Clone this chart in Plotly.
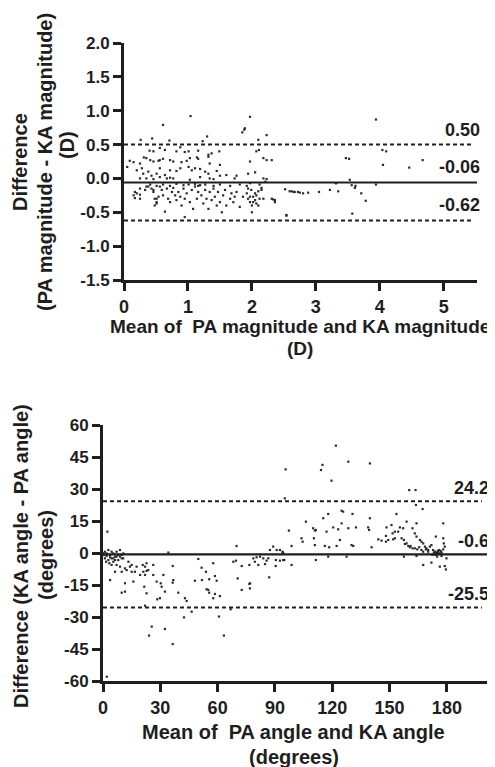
import plotly.graph_objects as go

# ---------------- data: magnitude (top panel) ----------------
mag_mean = [
    1.04, 0.61, 1.97, 1.88, 1.89, 1.85, 1.30, 2.23, 0.26, 0.44, 0.71, 2.10, 1.23,
    0.40, 0.46, 0.56, 0.64, 0.82, 0.88, 0.95, 1.01, 1.16, 1.32, 1.37, 1.49, 2.07, 2.11,
    0.09, 0.15, 0.25, 0.31, 0.35, 0.41, 0.46, 0.54, 0.56, 0.61, 0.72, 0.77, 0.90, 0.98,
    1.03, 1.14, 1.16, 1.32, 1.34, 1.50, 1.97, 2.18, 2.23, 2.31,
    0.05, 0.20, 0.28, 0.30, 0.38, 0.43, 0.51, 0.56, 0.64, 0.72, 0.82, 0.88, 1.01, 1.06,
    1.11, 1.19, 1.27, 1.32, 1.45, 1.50, 1.60, 1.76, 1.73, 1.94, 2.05, 2.18, 2.23,
    0.25, 0.35, 0.46, 0.56, 0.67, 0.72, 0.77, 1.03, 1.19, 1.34, 1.40,
    3.94, 4.04, 4.10, 3.47, 3.52, 4.05, 4.46, 4.67, 3.31, 3.53, 3.56, 3.62, 3.94,
    2.62, 2.72, 2.80, 2.88, 3.05, 3.22, 3.35, 3.71, 3.78, 3.57,
    1.94, 1.99, 2.05, 2.10, 2.15, 1.97, 2.02, 2.07, 2.12, 2.33, 2.36, 2.67, 2.75,
    3.61, 2.00, 2.54, 3.32, 1.97, 2.21,
    0.15, 0.17, 0.25, 0.33, 0.38, 0.43, 0.46, 0.48, 0.48, 0.51, 0.54, 0.56, 0.59, 0.61,
    0.67, 0.69, 0.72, 0.75, 0.77, 0.80, 0.82, 0.85, 0.88, 0.90, 0.93, 0.95, 0.98, 1.03,
    1.06, 1.08, 1.11, 1.14, 1.16, 1.19, 1.21, 1.24, 1.27, 1.29, 1.32, 1.34, 1.37, 1.40,
    1.42, 1.45, 1.47, 1.50, 1.53, 1.55, 1.58, 1.60, 1.66, 1.68, 1.71, 1.73, 1.76, 1.81,
    1.86, 1.92, 1.94, 1.97, 2.00, 2.02, 2.05, 2.07, 2.10, 2.15, 2.18, 2.31, 2.36, 2.52,
    2.59, 2.65, 0.64, 0.95, 2.54, 0.25, 0.20,
    0.41, 0.51, 0.61, 0.72, 0.82, 0.93, 1.01, 1.11, 1.16, 1.27, 1.40, 1.50, 1.66, 1.81,
    1.92, 2.12,
    0.17, 0.25, 0.35, 0.46, 0.51, 0.51,
]
mag_diff = [
    0.92, 0.79, 0.91, 0.72, 0.74, 0.68, 0.62, 0.64, 0.57, 0.59, 0.56, 0.57, 0.55,
    0.41, 0.40, 0.45, 0.42, 0.40, 0.46, 0.39, 0.40, 0.41, 0.35, 0.37, 0.40, 0.40, 0.42,
    0.26, 0.24, 0.22, 0.31, 0.30, 0.27, 0.25, 0.26, 0.27, 0.29, 0.27, 0.25, 0.24, 0.26,
    0.30, 0.31, 0.29, 0.32, 0.22, 0.20, 0.25, 0.30, 0.27, 0.27,
    0.17, 0.12, 0.15, 0.07, 0.10, 0.04, 0.07, 0.15, 0.05, 0.12, 0.11, 0.15, 0.17, 0.12,
    0.15, 0.14, 0.10, 0.07, 0.11, 0.04, 0.05, 0.04, 0.00, 0.07, 0.09, 0.00, -0.01,
    0.00, 0.00, -0.01, 0.02, 0.00, 0.01, 0.00, -0.02, 0.02, 0.00, -0.01,
    0.87, 0.42, 0.40, 0.30, 0.29, 0.20, 0.16, 0.27, -0.07, -0.02, -0.10, -0.11, -0.09,
    -0.19, -0.20, -0.22, -0.21, -0.20, -0.17, -0.19, -0.22, -0.33, -0.52,
    -0.15, -0.17, -0.22, -0.19, -0.14, -0.27, -0.35, -0.37, -0.30, -0.31, -0.35, -0.20, -0.21,
    -0.14, -0.50, -0.54, -0.07, -0.07, -0.05,
    -0.25, -0.29, -0.24, -0.17, -0.12, -0.15, -0.20, -0.30, -0.40, -0.35, -0.27, -0.12, -0.17, -0.25,
    -0.15, -0.30, -0.35, -0.20, -0.14, -0.25, -0.32, -0.20, -0.27, -0.40, -0.15, -0.30, -0.22, -0.35,
    -0.17, -0.45, -0.12, -0.30, -0.20, -0.10, -0.25, -0.37, -0.17, -0.30, -0.45, -0.20, -0.32, -0.15,
    -0.27, -0.40, -0.20, -0.35, -0.50, -0.25, -0.17, -0.40, -0.30, -0.22, -0.35, -0.27, -0.20, -0.42,
    -0.27, -0.22, -0.30, -0.35, -0.40, -0.27, -0.32, -0.25, -0.40, -0.17, -0.30, -0.30, -0.32, -0.16,
    -0.19, -0.20, -0.49, -0.57, -0.55, -0.30, -0.22,
    -0.09, -0.11, -0.09, -0.11, -0.08, -0.10, -0.09, -0.08, -0.11, -0.09, -0.11, -0.09, -0.11, -0.09,
    -0.11, -0.09,
    -0.20, -0.15, -0.12, -0.17, -0.30, -0.37,
]
mag_limits = [0.50, -0.06, -0.62]
mag_yticks = [2.0, 1.5, 1.0, 0.5, 0.0, -0.5, -1.0, -1.5]
mag_xticks = [0, 1, 2, 3, 4, 5]

# ---------------- data: angle (bottom panel) ----------------
ang_mean = [
    95.6, 95.2, 97.3, 2.3, 69.9, 34.2, 49.9, 51.6, 57.7, 36.5, 26.3, 53.9, 58.6, 48.1,
    51.8, 55.6, 59.5, 54.2, 55.1, 55.6, 58.6, 61.2, 57.7, 42.9, 43.8, 39.4, 36.8, 36.5,
    31.6, 26.3, 22.0, 22.8, 21.6, 22.8, 28.1, 30.7, 29.8, 28.4, 32.4, 30.2, 22.0, 46.4,
    42.4, 60.7, 66.8, 25.5, 24.1, 32.4, 36.5, 63.3, 11.5, 9.8, 11.5, 15.9, 3.7, 6.3,
    9.8, 12.4, 14.1, 15.0, 16.7, 17.6, 19.4, 21.1, 22.0, 23.7, 22.8, 20.8, 13.3, 15.0,
    8.9, 11.5, 7.1, 4.5, 5.4,
    1.0, 1.9, 2.8, 3.7, 4.5, 5.4, 6.3, 7.1, 8.0, 8.9, 9.8, 10.6, 1.0, 2.8, 4.5, 6.3,
    8.0, 9.8, 1.9, 3.7, 5.4, 7.1, 8.9, 10.6, 0.5, 1.6, 3.3, 0.2,
    78.7, 80.4, 82.2, 83.9, 85.6, 86.5, 89.1, 87.4, 90.9, 92.6, 94.0, 94.4, 79.5, 81.3,
    76.6, 72.6, 68.2, 69.6, 70.5, 72.6, 76.6, 76.9, 87.0, 84.8, 90.4, 90.5, 92.6, 94.9,
    98.7, 77.0, 2.0,
    121.9, 128.4, 139.7, 114.9, 114.1, 119.6, 160.3, 163.6, 163.8, 167.3, 124.9, 125.7,
    130.6, 117.9, 115.3, 153.6, 106.2, 124.9, 139.7, 151.0, 158.9, 164.1, 178.1, 110.0,
    111.4, 110.9, 117.0, 120.5, 123.1, 128.4, 132.4, 138.8, 139.3, 148.4, 151.6, 152.8,
    154.5, 155.4, 157.1, 162.0, 103.9, 104.5, 98.7, 110.4, 110.9, 116.1, 118.4, 122.3,
    124.0, 130.1, 131.0, 140.6, 144.1, 145.8, 148.1, 149.3, 151.9, 152.8, 148.1, 156.3,
    157.5, 158.9, 159.8, 160.6, 163.2, 164.1, 165.9, 166.7, 167.6, 168.5, 169.3, 170.2,
    171.1, 171.9,
    172.8, 173.2, 173.7, 174.6, 175.5, 176.0, 176.3, 177.2, 178.1, 178.9, 174.2, 174.9,
    172.5, 177.2, 174.2, 178.1, 178.4, 167.6, 171.9, 176.3, 178.9, 179.5, 179.8, 164.1,
    157.5, 117.9, 127.5, 111.4, 94.3, 94.0,
    175.0, 175.8, 176.8, 173.5, 175.2, 174.0,
    158.0, 161.0, 162.0, 163.2, 164.5, 165.5, 166.7, 167.6, 169.0, 170.2,
]
ang_diff = [
    39.2, 25.6, 10.5, 10.0, 3.3, 0.2, -2.8, -6.9, -4.8, -6.1, -5.6, -8.8, -10.8, -13.0,
    -12.7, -12.3, -13.0, -17.0, -17.3, -18.6, -19.2, -20.2, -21.2, -21.2, -22.5, -18.6, -12.7, -13.9,
    -10.3, -10.3, -10.3, -8.4, -15.8, -18.9, -13.4, -15.8, -21.2, -21.7, -18.1, -14.2, -24.7, -27.5,
    -30.2, -29.8, -26.4, -34.5, -38.7, -35.6, -42.7, -38.7, -14.2, -18.6, -18.1, -13.4, -12.7, -8.8,
    -8.8, -8.0, -6.4, -8.8, -8.8, -6.4, -10.3, -8.8, -6.4, -8.0, -4.8, -5.6, -4.1, -5.6,
    -6.4, -7.2, -5.6, -5.6, -4.1,
    0.6, -0.2, 1.4, -0.9, 0.6, -0.2, -1.7, 0.6, -0.9, 1.4, -0.9, -0.2, -2.5, -3.3, -2.5, -3.3,
    -3.3, -2.5, -1.4, -2.0, -2.5, -1.7, -1.7, -2.5, -0.9, -4.1, -4.8, -0.2,
    -2.5, -2.0, -1.7, -2.5, -3.6, -2.5, 3.0, 1.4, 1.4, 1.4, 0.6, -0.2, -4.1, -5.6,
    -5.6, -6.1, -4.1, -3.6, -11.9, -17.3, -14.5, -16.6, -11.4, -5.2, -6.1, -3.3, -3.6, -3.3,
    -5.6, -14.2, -58.0,
    50.3, 42.8, 42.0, 41.3, 38.9, 33.9, 29.5, 29.5, 22.5, 20.6, 19.8, 19.4,
    18.3, 18.3, 16.3, 18.3, 14.7, 13.9, 16.3, 13.1, 14.7, 13.9, 13.9, 11.6,
    10.8, 10.5, 10.0, 12.0, 11.1, 11.6, 12.0, 12.0, 10.8, 12.0, 9.2, 10.0,
    10.0, 12.0, 11.6, 11.6, 6.9, 5.3, 3.3, 6.9, 3.7, 3.3, 2.7, 3.3,
    6.1, 3.7, 3.3, 2.7, 6.4, 5.8, 8.0, 6.1, 6.4, 6.9, 5.3, 6.9,
    6.1, 4.5, 3.3, 2.7, 9.2, 7.7, 6.1, 5.3, 4.5, 3.0, 2.2, 1.4,
    3.0, 3.7,
    1.4, 0.2, 0.6, -0.2, 0.6, 1.4, -0.2, 0.2, 1.7, 3.0, -0.9, -1.7,
    -0.9, -1.4, 7.7, 6.9, 4.5, -5.6, -4.5, -6.4, -6.1, -7.7, -2.5, -1.4,
    -1.7, -1.7, -1.7, -3.3, -3.3, 0.2,
    0.0, -0.5, 0.9, -0.4, 1.0, 0.3,
    4.2, 3.3, 2.2, 2.2, 1.7, 2.7, 1.4, 0.6, 1.7, 0.6,
]
ang_limits = [24.2, -0.6, -25.5]
ang_yticks = [60, 45, 30, 15, 0, -15, -30, -45, -60]
ang_xticks = [0, 30, 60, 90, 120, 150, 180]

FONT = "Liberation Sans"
INK = "#1e1e1e"
W, H = 495, 767
OFF = 8  # page margin around the figure


def PX(x):  # screen pixel -> paper x
    return (x - OFF) / W


def PY(y):  # screen pixel -> paper y
    return 1 - (y - OFF) / H


fig = go.Figure()

dot = dict(size=2.2, color="#2a2a2a", symbol="square", line=dict(width=0))
fig.add_trace(go.Scatter(x=mag_mean, y=mag_diff, mode="markers", xaxis="x", yaxis="y",
                         marker=dot, showlegend=False, hoverinfo="skip"))
fig.add_trace(go.Scatter(x=ang_mean, y=ang_diff, mode="markers", xaxis="x2", yaxis="y2",
                         marker=dot, showlegend=False, hoverinfo="skip"))


def add_lines(limits, xend_dash, xend_solid, xa, ya):
    for i, v in enumerate(limits):
        solid = (i == 1)
        fig.add_trace(go.Scatter(
            x=[0, xend_solid if solid else xend_dash], y=[v, v], mode="lines",
            xaxis=xa, yaxis=ya, showlegend=False, hoverinfo="skip",
            line=dict(color=INK, width=2.2 if solid else 2,
                      dash="solid" if solid else "4px,3px")))


add_lines(mag_limits, 5.45, 5.52, "x", "y")
add_lines(ang_limits, 198.3, 201, "x2", "y2")

axis_common = dict(showline=True, linecolor=INK, linewidth=3, ticks="outside",
                   ticklen=8, tickwidth=3, tickcolor=INK, showgrid=False,
                   zeroline=False, mirror=False, automargin=False)


def b(s):
    return f"<b>{s}</b>"


fig.update_layout(
    width=W, height=H, margin=dict(l=0, r=0, t=0, b=0, pad=0, autoexpand=False),
    paper_bgcolor="white", plot_bgcolor="white",
    xaxis=dict(domain=[PX(124), PX(477)], range=[0, 5.52], anchor="y",
               tickvals=mag_xticks, ticktext=[b(t) for t in mag_xticks],
               tickfont=dict(family=FONT, size=18, color=INK),
               **axis_common),
    yaxis=dict(domain=[PY(280), PY(43)], range=[-1.5, 2.0], anchor="x",
               tickvals=mag_yticks, ticktext=[b(f"{t:.1f}") for t in mag_yticks],
               tickfont=dict(family=FONT, size=17, color=INK),
               **axis_common),
    xaxis2=dict(domain=[PX(103), PX(487)], range=[0, 201], anchor="y2",
                tickvals=ang_xticks, ticktext=[b(t) for t in ang_xticks],
                tickfont=dict(family=FONT, size=18, color=INK),
                **axis_common),
    yaxis2=dict(domain=[PY(681), PY(425)], range=[-60, 60], anchor="x2",
                tickvals=ang_yticks, ticktext=[b(t) for t in ang_yticks],
                tickfont=dict(family=FONT, size=17, color=INK),
                **axis_common),
)

ann = []


def txt(text, xpx, ypx, size=20, angle=0, xanchor="center"):
    ann.append(dict(text=b(text), x=PX(xpx), y=PY(ypx), xref="paper", yref="paper",
                    showarrow=False, textangle=angle, xanchor=xanchor, yanchor="middle",
                    font=dict(family=FONT, size=size, color=INK)))


txt("Mean of  PA magnitude and KA magnitude", 300, 327, size=19)
txt("(D)", 300, 349, size=19)
txt("Difference", 20, 162, angle=-90)
txt("(PA magnitude - KA magnitude)", 45, 162, angle=-90)
txt("(D)", 67, 145, angle=-90)

txt("Mean of  PA angle and KA angle", 293, 732, size=20)
txt("(degrees)", 294, 757, size=20)
txt("Difference (KA angle - PA angle)", 21, 556, angle=-90)
txt("(degrees)", 46, 555, angle=-90)

for v in mag_limits:
    ann.append(dict(text=b(f"{v:.2f}"), x=PX(482), xref="paper", y=v, yref="y",
                    yshift=15, xanchor="right", yanchor="middle", showarrow=False,
                    font=dict(family=FONT, size=18, color=INK)))
for v in ang_limits:
    ann.append(dict(text=b(f"{v:.1f}"), x=PX(491), xref="paper", y=v, yref="y2",
                    yshift=13, xanchor="right", yanchor="middle", showarrow=False,
                    font=dict(family=FONT, size=18, color=INK)))

fig.update_layout(annotations=ann)
fig.write_html("out.html")
